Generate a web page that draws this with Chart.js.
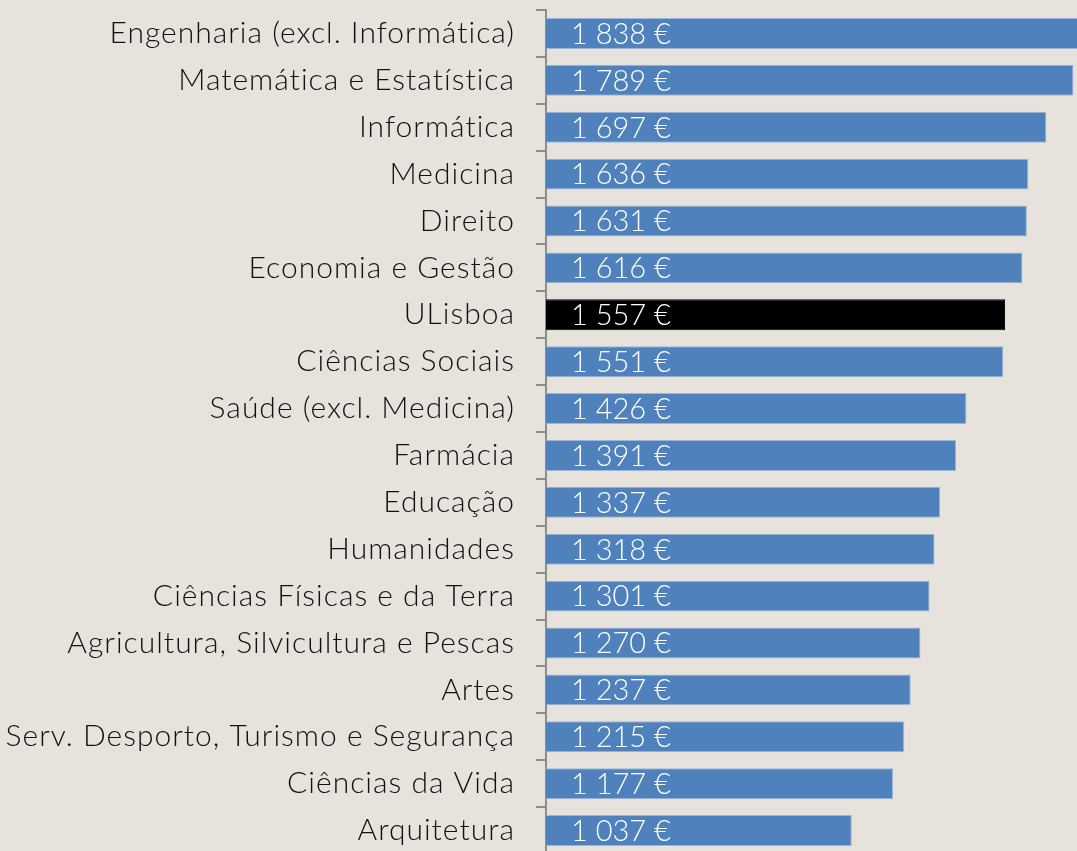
<!DOCTYPE html>
<html>
<head>
<meta charset="utf-8">
<script src="https://cdn.jsdelivr.net/npm/chart.js@4/dist/chart.umd.min.js"></script>
<style>
  html, body { margin: 0; padding: 0; background: #e7e3dc; overflow: hidden; }
  #wrap { width: 1077px; height: 856px; }
</style>
</head>
<body>
<div id="wrap"><canvas id="salaryChart"></canvas></div>
<script>
// Areas (top to bottom) and average salary in euros
const areas = [
  'Engenharia (excl. Informática)', 'Matemática e Estatística', 'Informática', 'Medicina',
  'Direito', 'Economia e Gestão', 'ULisboa', 'Ciências Sociais', 'Saúde (excl. Medicina)',
  'Farmácia', 'Educação', 'Humanidades', 'Ciências Físicas e da Terra',
  'Agricultura, Silvicultura e Pescas', 'Artes', 'Serv. Desporto, Turismo e Segurança',
  'Ciências da Vida', 'Arquitetura'
];
const salaries = [1838, 1789, 1697, 1636, 1631, 1616, 1557, 1551, 1426, 1391, 1337, 1318, 1301, 1270, 1237, 1215, 1177, 1037];
const highlight = 'ULisboa';

const fontFamily = "Lato, 'Open Sans', sans-serif";

function euro(v) {
  return String(v).replace(/\B(?=(\d{3})+(?!\d))/g, ' ') + ' €';
}

// wider letter spacing for the category labels (Calibri-like look)
const spacing = {
  id: 'spacing',
  beforeDraw(chart) { chart.ctx.letterSpacing = '1px'; }
};

// white value text inside each bar
const valueLabels = {
  id: 'valueLabels',
  afterDatasetsDraw(chart) {
    const ctx = chart.ctx;
    const meta = chart.getDatasetMeta(0);
    ctx.save();
    ctx.letterSpacing = '0px';
    ctx.fillStyle = '#ffffff';
    ctx.font = '300 29px ' + fontFamily;
    ctx.textAlign = 'left';
    ctx.textBaseline = 'middle';
    meta.data.forEach((bar, i) => {
      ctx.fillText(euro(salaries[i]), bar.base + 25, bar.y + 1);
    });
    ctx.restore();
  }
};

const ctx = document.getElementById('salaryChart').getContext('2d');
new Chart(ctx, {
  type: 'bar',
  data: {
    labels: areas,
    datasets: [{
      data: salaries,
      backgroundColor: areas.map(a => a === highlight ? '#000000' : '#4f81bd'),
      borderColor: areas.map(a => a === highlight ? '#000000' : '#9db6d8'),
      borderWidth: 1,
      borderSkipped: 'start',
      categoryPercentage: 0.66,
      barPercentage: 1
    }]
  },
  options: {
    indexAxis: 'y',
    responsive: true,
    maintainAspectRatio: false,
    animation: false,
    layout: { padding: { top: 10, bottom: 2, left: 0, right: 0 } },
    plugins: {
      legend: { display: false },
      tooltip: { enabled: false }
    },
    scales: {
      x: {
        display: false,
        min: 0,
        max: 1801
      },
      y: {
        afterFit(scale) {
          scale.width = 546;
          scale.paddingTop = 0;
          scale.paddingBottom = 0;
        },
        border: { display: true, color: '#8c8c8c', width: 2 },
        grid: {
          offset: true,
          drawOnChartArea: false,
          drawTicks: true,
          tickLength: 10,
          color: '#8c8c8c',
          lineWidth: 2
        },
        ticks: {
          color: '#111111',
          padding: 21,
          autoSkip: false,
          font: { family: fontFamily, size: 30, weight: 300 }
        }
      }
    }
  },
  plugins: [spacing, valueLabels]
});
</script>
</body>
</html>
